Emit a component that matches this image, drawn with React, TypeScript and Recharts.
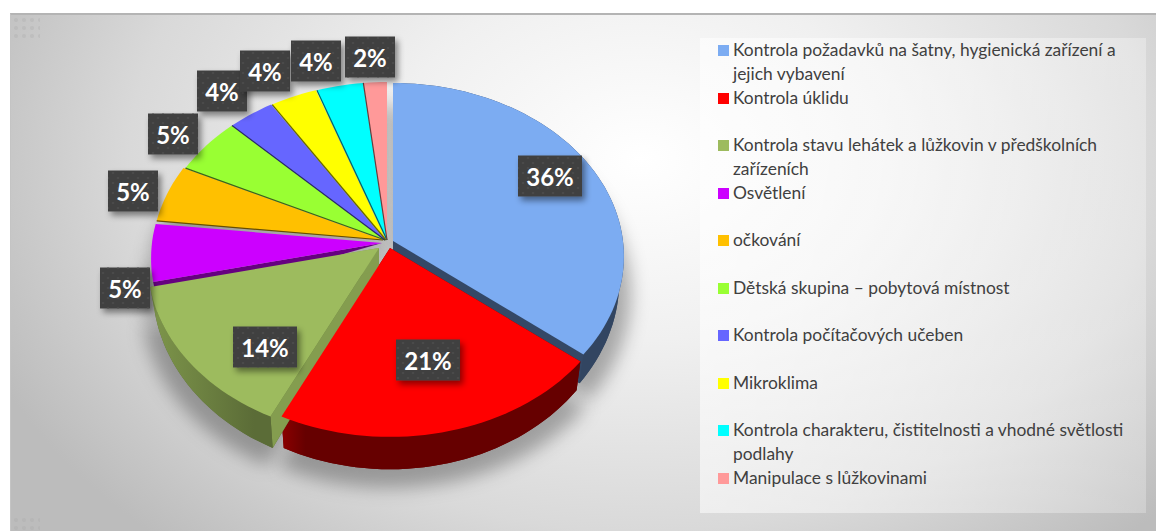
import React from 'react';
import { PieChart, Pie, Legend } from 'recharts';

const categories = [
  'Kontrola požadavků na šatny, hygienická zařízení a jejich vybavení',
  'Kontrola úklidu',
  'Kontrola stavu lehátek a lůžkovin v předškolních zařízeních',
  'Osvětlení',
  'očkování',
  'Dětská skupina – pobytová místnost',
  'Kontrola počítačových učeben',
  'Mikroklima',
  'Kontrola charakteru, čistitelnosti a vhodné světlosti podlahy',
  'Manipulace s lůžkovinami',
];
const counts = [20, 12, 8, 3, 3, 3, 2, 2, 2, 1];
const colors = ['#7cacf2', '#ff0000', '#9dbb5e', '#cc00ff', '#ffc000', '#99ff33', '#6666ff', '#ffff00', '#00ffff', '#ff9999'];

const data = categories.map((name, i) => ({ name, value: counts[i], fill: colors[i] }));

// how far each slice is pulled out of the pie
const EXPLODE = [[8, 1], [5, 8], [-6, 8], [-3, 3], [-2, 0], [0, 0], [0, 0], [1, 0], [2, 0], [2, 0]];
// label box centres, placed by hand like in the original
const LABEL_POS = [[550, 176], [428, 360], [265, 347], [125, 288], [133, 191], [173, 134], [222, 91], [265, 71], [316, 61], [370, 57]];

const CX = 385;
const CY = 240;
const RADIUS = 230;
const TILT = 0.748;
const PERSP = 0.089;

const shade = (hex: string, f: number) => {
  const n = parseInt(hex.slice(1), 16);
  const c = [(n >> 16) & 255, (n >> 8) & 255, n & 255].map((v) => Math.round(v * f));
  return `rgb(${c.join(',')})`;
};

type Face = { fx: number; fy: number; dy: number };
const TOP: Face = { fx: 1, fy: 1, dy: 0 };
const BOTTOM: Face = { fx: 0.98, fy: 1.05, dy: 23 };
const SHADOW: Face = { fx: 1.03, fy: 1.08, dy: 36 };

// clock degrees (0 = up, clockwise) -> screen position on the tilted disc
const project = (deg: number, ox: number, oy: number, r: number, face: Face) => {
  const a = (deg * Math.PI) / 180;
  const u = Math.sin(a);
  const v = -Math.cos(a);
  const s = 1 / (1 - PERSP * v);
  return [ox + r * u * s * face.fx, oy + face.dy + r * TILT * v * s * face.fy];
};

const arc = (from: number, to: number, ox: number, oy: number, r: number, face: Face) => {
  const n = Math.max(4, Math.ceil(Math.abs(to - from) / 2));
  const pts: number[][] = [];
  for (let i = 0; i <= n; i++) pts.push(project(from + ((to - from) * i) / n, ox, oy, r, face));
  return pts;
};

const toPath = (pts: number[][]) => 'M' + pts.map((p) => `${p[0].toFixed(1)},${p[1].toFixed(1)}`).join('L') + 'Z';

const sliceInfo = (p: any) => {
  const idx = categories.indexOf(p.name ?? p.payload?.name);
  const [ex, ey] = EXPLODE[idx];
  return {
    idx,
    ox: p.cx + ex,
    oy: p.cy + ey,
    r: p.outerRadius,
    from: 90 - p.startAngle,
    to: 90 - p.endAngle,
    color: colors[idx],
  };
};

const ShadowSlice = (p: any) => {
  const { ox, oy, r, from, to } = sliceInfo(p);
  const pts = [[ox, oy + SHADOW.dy], ...arc(from, to, ox, oy, r, SHADOW)];
  return <path d={toPath(pts)} fill="#000" fillOpacity={0.3} filter="url(#groundBlur)" />;
};

const WallSlice = (p: any) => {
  const { idx, ox, oy, r, from, to, color } = sliceInfo(p);
  // the small slices at the back never show their sides
  if (idx > 3) return <g />;
  const top = arc(from, to, ox, oy, r, TOP);
  const bottom = arc(from, to, ox, oy, r, BOTTOM);
  const apexT = [ox, oy];
  const apexB = [ox, oy + BOTTOM.dy];
  // purple only shows a thin strip that tapers towards the centre
  if (idx === 3) {
    return <path d={toPath([apexT, top[0], bottom[0]])} fill={shade(color, 0.5)} />;
  }
  const cutColor = shade(color, idx === 2 ? 0.84 : 0.42);
  return (
    <g>
      <path d={toPath([apexB, ...bottom])} fill={shade(color, idx === 2 ? 0.58 : 0.4)} />
      <path d={toPath([apexT, top[0], bottom[0], apexB])} fill={cutColor} />
      <path d={toPath([apexT, top[top.length - 1], bottom[bottom.length - 1], apexB])} fill={cutColor} />
      <path d={toPath([...top, ...[...bottom].reverse()])} fill={`url(#wall${idx})`} />
    </g>
  );
};

const TopSlice = (p: any) => {
  const { idx, ox, oy, r, from, to, color } = sliceInfo(p);
  const pts = [[ox, oy], ...arc(from, to, ox, oy, r, TOP)];
  const edge = pts[1];
  return (
    <g>
      <path d={toPath(pts)} fill={color} />
      {idx > 3 && (
        <line x1={ox} y1={oy} x2={edge[0]} y2={edge[1]} stroke={shade(color, 0.4)} strokeWidth={1.2} />
      )}
    </g>
  );
};

const PercentLabel = (p: any) => {
  const [x, y] = LABEL_POS[p.index];
  const text = `${Math.round(p.percent * 100)}%`;
  const w = text.length > 2 ? 64 : 50;
  return (
    <g>
      <rect x={x - w / 2} y={y - 20.5} width={w} height={41} fill="#404040" filter="url(#boxShadow)" />
      <rect x={x - w / 2} y={y - 20.5} width={w} height={41} fill="url(#boxDots)" />
      <text x={x} y={y} textAnchor="middle" dominantBaseline="central" fill="#fff"
        fontFamily="Lato" fontWeight={700} fontSize={24}>
        {text}
      </text>
    </g>
  );
};

const LegendList = ({ payload }: any) => (
  <div style={{ fontFamily: 'Lato', fontSize: 17.4, lineHeight: '23.6px', color: '#404040', width: 433 }}>
    {(payload || []).filter((item: any) => item.type !== 'none').map((item: any) => (
      <div key={item.value} style={{ height: 47.5, position: 'relative', paddingLeft: 33, boxSizing: 'border-box' }}>
        <span style={{ position: 'absolute', left: 18, top: 7, width: 11, height: 11, background: item.color }} />
        {item.value}
      </div>
    ))}
  </div>
);

const cornerNoise = {
  position: 'absolute' as const,
  left: 12,
  width: 28,
  height: 26,
  opacity: 0.3,
  backgroundImage: 'radial-gradient(circle, #a8a8a8 1.5px, transparent 2.5px)',
  backgroundSize: '8px 8px',
};

export default function App() {
  return (
    <div style={{ position: 'absolute', left: 0, top: 0, width: 1156, height: 531, background: '#fff', overflow: 'hidden' }}>
      <div
        style={{
          position: 'absolute', left: 10, top: 13, width: 1146, height: 518, boxSizing: 'border-box',
          borderTop: '2px solid #b4b4b4', borderLeft: '1px solid #c4c4c4',
          background: 'radial-gradient(ellipse 62% 100% at 55% 28%, #ffffff 0%, #f0f0f0 35%, #d9d9d9 72%, #bcbcbc 100%)',
        }}
      />
      <div style={{ ...cornerNoise, top: 16 }} />
      <div style={{ ...cornerNoise, top: 516, height: 14 }} />
      <div style={{ position: 'absolute', left: 0, top: 0 }}>
        <PieChart width={1156} height={531} margin={{ top: 0, right: 0, bottom: 0, left: 0 }}>
          <defs>
            <filter id="groundBlur" x="-30%" y="-30%" width="160%" height="160%">
              <feGaussianBlur stdDeviation="9" />
            </filter>
            <filter id="boxShadow" x="-30%" y="-30%" width="170%" height="170%">
              <feDropShadow dx="3" dy="4" stdDeviation="3" floodColor="#000" floodOpacity="0.45" />
            </filter>
            <pattern id="boxDots" width="10" height="10" patternUnits="userSpaceOnUse">
              <circle cx="3" cy="3" r="1.1" fill="#4c4c4c" />
              <circle cx="8" cy="8" r="1.1" fill="#4c4c4c" />
            </pattern>
            {colors.map((c, i) => (
              <linearGradient key={c} id={`wall${i}`} x1="0" y1="0" x2="1" y2="0">
                <stop offset="0" stopColor={shade(c, i === 2 ? 0.8 : 0.55)} />
                <stop offset={i === 2 ? '0.85' : '0.08'} stopColor={shade(c, i === 2 ? 0.58 : 0.4)} />
              </linearGradient>
            ))}
          </defs>
          <Legend
            content={<LegendList />}
            layout="vertical"
            itemSorter={null}
            wrapperStyle={{
              left: 700, top: 38, width: 446, height: 475, boxSizing: 'border-box', paddingTop: 0,
              background: 'linear-gradient(100deg, rgba(255,255,255,0.6), rgba(255,255,255,0.25))',
            }}
          />
          <Pie data={data} dataKey="value" nameKey="name" cx={CX} cy={CY} outerRadius={RADIUS} startAngle={90} endAngle={-270}
            stroke="none" legendType="none" isAnimationActive={false} shape={ShadowSlice} />
          <Pie data={data} dataKey="value" nameKey="name" cx={CX} cy={CY} outerRadius={RADIUS} startAngle={90} endAngle={-270}
            stroke="none" legendType="none" isAnimationActive={false} shape={WallSlice} />
          <Pie data={data} dataKey="value" nameKey="name" cx={CX} cy={CY} outerRadius={RADIUS} startAngle={90} endAngle={-270}
            stroke="none" isAnimationActive={false} shape={TopSlice} label={PercentLabel} labelLine={false} />
        </PieChart>
      </div>
    </div>
  );
}
